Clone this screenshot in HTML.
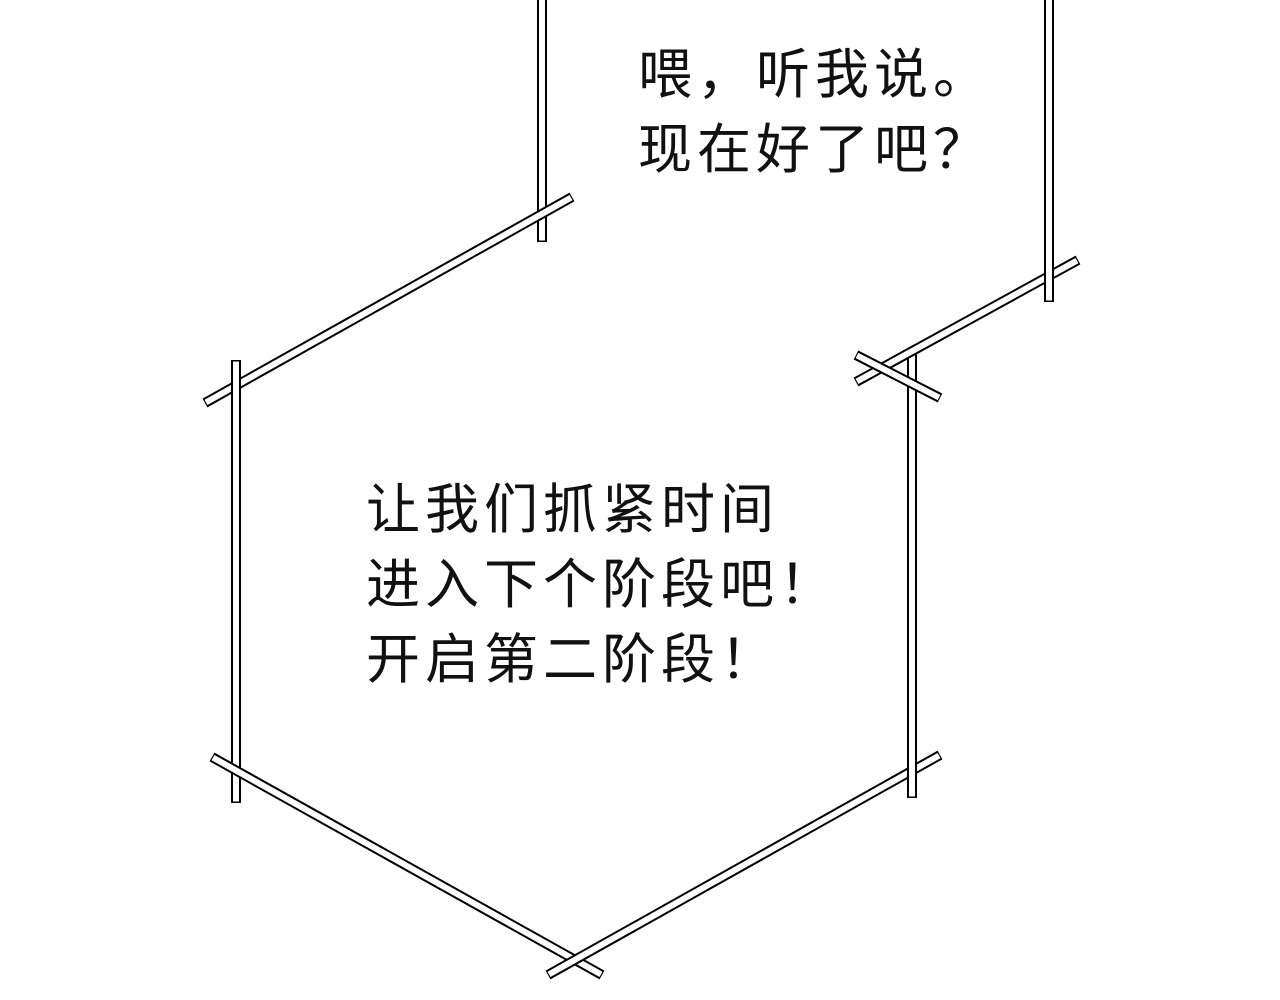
<!DOCTYPE html>
<html><head><meta charset="utf-8"><style>
html,body{margin:0;padding:0;background:#fff;width:1280px;height:1000px;overflow:hidden;position:relative}
svg{position:absolute;left:0;top:0}
.t{position:absolute;font-family:"Liberation Sans","Noto Sans CJK SC",sans-serif;font-size:54px;line-height:75px;color:#111;white-space:nowrap;letter-spacing:5px}
</style></head><body>
<svg width="1280" height="1000" viewBox="0 0 1280 1000">
<g stroke-linecap="butt">
<line x1="542" y1="-5" x2="542" y2="242" stroke="#000" stroke-width="10"/><line x1="542" y1="-5" x2="542" y2="240.5" stroke="#fff" stroke-width="6"/>
<line x1="572" y1="197" x2="205" y2="403" stroke="#000" stroke-width="10"/><line x1="571" y1="197.6" x2="206" y2="402.4" stroke="#fff" stroke-width="6"/>
<line x1="236" y1="360" x2="236" y2="803" stroke="#000" stroke-width="10"/><line x1="236" y1="361.5" x2="236" y2="801.5" stroke="#fff" stroke-width="6"/>
<line x1="212" y1="757" x2="602" y2="975" stroke="#000" stroke-width="10"/><line x1="213" y1="757.6" x2="601" y2="974.4" stroke="#fff" stroke-width="6"/>
<line x1="940" y1="755" x2="548" y2="975" stroke="#000" stroke-width="10"/><line x1="939" y1="755.6" x2="549" y2="974.4" stroke="#fff" stroke-width="6"/>
<line x1="912" y1="352" x2="912" y2="798" stroke="#000" stroke-width="10"/><line x1="912" y1="353.5" x2="912" y2="796.5" stroke="#fff" stroke-width="6"/>
<line x1="1078" y1="260" x2="856" y2="382" stroke="#000" stroke-width="10"/><line x1="1077" y1="260.6" x2="857" y2="381.4" stroke="#fff" stroke-width="6"/>
<line x1="856" y1="355" x2="940" y2="398" stroke="#000" stroke-width="10"/><line x1="857" y1="355.5" x2="939" y2="397.5" stroke="#fff" stroke-width="6"/>
<line x1="1049" y1="-5" x2="1049" y2="302" stroke="#000" stroke-width="10"/><line x1="1049" y1="-5" x2="1049" y2="300.5" stroke="#fff" stroke-width="6"/>
</g>
</svg>
<div class="t" style="left:638px;top:38px">喂，听我说。<br>现在好了吧？</div>
<div class="t" style="left:366px;top:473px">让我们抓紧时间<br>进入下个阶段吧！<br>开启第二阶段！</div>
</body></html>
